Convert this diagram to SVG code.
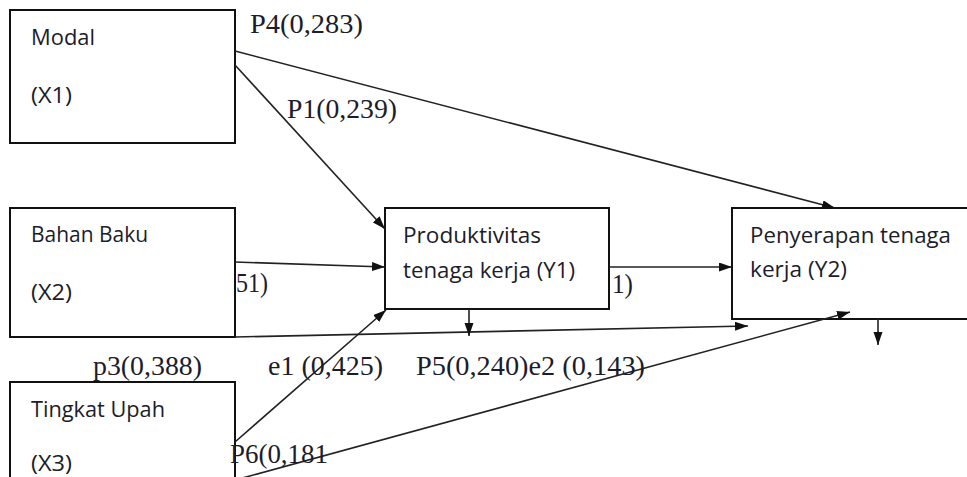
<svg xmlns="http://www.w3.org/2000/svg" width="967" height="477" viewBox="0 0 967 477">
<style>
.box{fill:#fff;stroke:#111;stroke-width:2}
.lbl{font-family:"Open Sans","Noto Sans","Liberation Sans",sans-serif;font-size:21px;fill:#1c1c2a}
.coef{font-family:"Liberation Serif","Times New Roman",serif;font-size:27px;fill:#1c1c2a}
.con{fill:none;stroke:#222;stroke-width:1.6;marker-end:url(#ah)}
</style>
<defs>
<marker id="ah" markerUnits="userSpaceOnUse" markerWidth="14" markerHeight="10" refX="13" refY="4.5" orient="auto">
<path d="M0,0 L13,4.5 L0,9 z" fill="#111"/>
</marker>
</defs>
<rect width="967" height="477" fill="#fff"/>
<g id="n-x1">
<rect class="box" x="10" y="10" width="225" height="133"/>
<text class="lbl" x="31" y="45" textLength="64" lengthAdjust="spacingAndGlyphs">Modal</text>
<text class="lbl" x="31" y="103" textLength="41" lengthAdjust="spacingAndGlyphs">(X1)</text>
</g>
<g id="n-x2">
<rect class="box" x="10" y="208" width="225" height="129"/>
<text class="lbl" x="31" y="242" textLength="117" lengthAdjust="spacingAndGlyphs">Bahan Baku</text>
<text class="lbl" x="31" y="300" textLength="41" lengthAdjust="spacingAndGlyphs">(X2)</text>
</g>
<g id="n-x3">
<rect class="box" x="10" y="382" width="225" height="110"/>
<text class="lbl" x="31" y="417" textLength="134" lengthAdjust="spacingAndGlyphs">Tingkat Upah</text>
<text class="lbl" x="31" y="471" textLength="41" lengthAdjust="spacingAndGlyphs">(X3)</text>
</g>
<g id="n-y1">
<rect class="box" x="385" y="208" width="224" height="101"/>
<text class="lbl" x="403" y="243" textLength="138" lengthAdjust="spacingAndGlyphs">Produktivitas</text>
<text class="lbl" x="403" y="278" textLength="172" lengthAdjust="spacingAndGlyphs">tenaga kerja (Y1)</text>
</g>
<g id="n-y2">
<rect class="box" x="732" y="208" width="250" height="111"/>
<text class="lbl" x="750" y="243" textLength="201" lengthAdjust="spacingAndGlyphs">Penyerapan tenaga</text>
<text class="lbl" x="750" y="277" textLength="97" lengthAdjust="spacingAndGlyphs">kerja (Y2)</text>
</g>
<g id="connectors">
<line class="con" x1="235" y1="65" x2="385" y2="229"/>
<line class="con" x1="235" y1="51" x2="835" y2="208"/>
<line class="con" x1="235" y1="262" x2="385" y2="267"/>
<line class="con" x1="235" y1="337" x2="748" y2="326"/>
<line class="con" x1="235" y1="442" x2="386" y2="310"/>
<line class="con" x1="235" y1="480" x2="850" y2="312"/>
<line class="con" x1="609" y1="267" x2="732" y2="267"/>
<line class="con" x1="469" y1="309" x2="469" y2="336"/>
<line class="con" x1="878" y1="319" x2="878" y2="345"/>
</g>
<g id="labels">
<text class="coef" x="250" y="33" textLength="113" lengthAdjust="spacingAndGlyphs">P4(0,283)</text>
<text class="coef" x="287" y="118" textLength="110" lengthAdjust="spacingAndGlyphs">P1(0,239)</text>
<text class="coef" x="236" y="292" textLength="32" lengthAdjust="spacingAndGlyphs">51)</text>
<text class="coef" x="612" y="293" textLength="21" lengthAdjust="spacingAndGlyphs">1)</text>
<text class="coef" x="93" y="375" textLength="109" lengthAdjust="spacingAndGlyphs">p3(0,388)</text>
<text class="coef" x="268" y="375" textLength="115" lengthAdjust="spacingAndGlyphs">e1 (0,425)</text>
<text class="coef" x="416" y="375" textLength="229" lengthAdjust="spacingAndGlyphs">P5(0,240)e2 (0,143)</text>
<text class="coef" x="230" y="463" textLength="98" lengthAdjust="spacingAndGlyphs">P6(0,181</text>
</g>
</svg>
